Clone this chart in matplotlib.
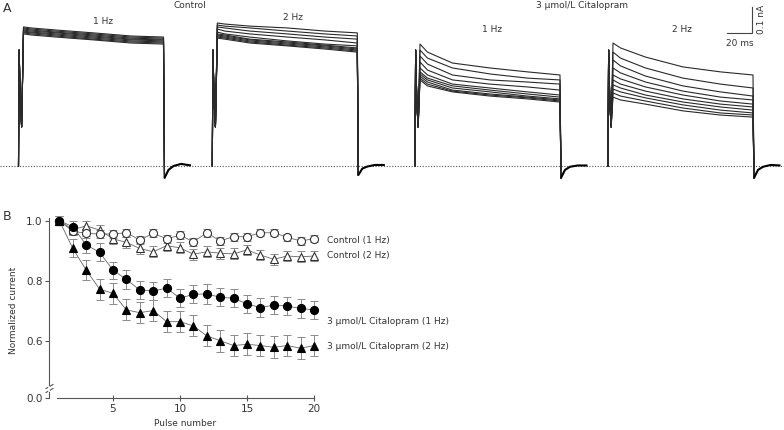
import matplotlib
matplotlib.use("Agg")
import matplotlib.pyplot as plt
from matplotlib.lines import Line2D

W, H = 784, 430

# ---------------- Panel B data (normalized current vs pulse number) ----------------
pulses = list(range(1, 21))
ctrl_1hz = [1.0, 0.965, 0.958, 0.956, 0.956, 0.960, 0.936, 0.958, 0.940, 0.952,
            0.930, 0.960, 0.933, 0.947, 0.947, 0.960, 0.960, 0.945, 0.933, 0.940]
ctrl_1hz_err = [0.015, 0.014, 0.014, 0.014, 0.013, 0.013, 0.013, 0.013, 0.014, 0.013,
                0.013, 0.013, 0.013, 0.013, 0.013, 0.012, 0.012, 0.012, 0.013, 0.012]
ctrl_2hz = [1.0, 0.970, 0.983, 0.969, 0.940, 0.928, 0.908, 0.897, 0.917, 0.910,
            0.889, 0.897, 0.892, 0.890, 0.903, 0.886, 0.872, 0.883, 0.880, 0.883]
ctrl_2hz_err = [0.015, 0.016, 0.016, 0.017, 0.017, 0.017, 0.018, 0.018, 0.018, 0.018,
                0.018, 0.018, 0.018, 0.018, 0.018, 0.018, 0.018, 0.018, 0.018, 0.018]
cit_1hz = [1.0, 0.980, 0.920, 0.895, 0.836, 0.805, 0.770, 0.767, 0.776, 0.743,
           0.756, 0.757, 0.746, 0.743, 0.724, 0.712, 0.720, 0.717, 0.709, 0.704]
cit_1hz_err = [0.015, 0.020, 0.028, 0.030, 0.028, 0.030, 0.030, 0.030, 0.030, 0.030,
               0.030, 0.032, 0.030, 0.030, 0.030, 0.030, 0.030, 0.030, 0.032, 0.031]
cit_2hz = [1.0, 0.908, 0.836, 0.773, 0.759, 0.704, 0.695, 0.702, 0.665, 0.665,
           0.651, 0.618, 0.602, 0.586, 0.590, 0.586, 0.580, 0.586, 0.577, 0.586]
cit_2hz_err = [0.015, 0.030, 0.033, 0.035, 0.035, 0.035, 0.035, 0.035, 0.035, 0.035,
               0.035, 0.035, 0.036, 0.036, 0.036, 0.036, 0.036, 0.036, 0.036, 0.036]
series_labels = ["Control (1 Hz)", "Control (2 Hz)",
                 "3 \u03bcmol/L Citalopram (1 Hz)", "3 \u03bcmol/L Citalopram (2 Hz)"]

# ---------------- Panel A data (current traces, nA vs ms) ----------------
panel_titles = ["1 Hz", "2 Hz", "1 Hz", "2 Hz"]
onset_t = [0.0, 0.5, 1.5, 2.5]            # ms after step onset
onset_amp = [0.0, 0.446, 0.24, 0.15]      # nA (capacitive transient)
trace_t = [4, 10, 30, 60, 90, 116]        # ms
tail_t = [0.8, 4, 8, 14, 22]              # ms after step end
tail_amp = [
    [-0.046, -0.015, 0.000, 0.008, 0.002],
    [-0.035, -0.010, -0.002, 0.004, 0.004],
    [-0.046, -0.015, -0.003, 0.002, 0.002],
    [-0.046, -0.015, -0.003, 0.004, 0.002],
]
ctrl_1hz_traces = [
    [0.535, 0.531, 0.523, 0.512, 0.500, 0.496],
    [0.531, 0.527, 0.519, 0.508, 0.496, 0.492],
    [0.527, 0.523, 0.515, 0.504, 0.492, 0.488],
    [0.523, 0.519, 0.512, 0.500, 0.488, 0.485],
    [0.519, 0.515, 0.508, 0.496, 0.485, 0.481],
    [0.515, 0.512, 0.504, 0.492, 0.481, 0.477],
    [0.512, 0.508, 0.500, 0.488, 0.477, 0.473],
    [0.508, 0.504, 0.496, 0.485, 0.473, 0.469],
]
ctrl_2hz_traces = [
    [0.550, 0.546, 0.538, 0.531, 0.519, 0.512],
    [0.542, 0.538, 0.531, 0.519, 0.508, 0.500],
    [0.535, 0.531, 0.519, 0.508, 0.496, 0.488],
    [0.527, 0.519, 0.508, 0.496, 0.485, 0.473],
    [0.515, 0.508, 0.496, 0.481, 0.469, 0.462],
    [0.508, 0.504, 0.488, 0.477, 0.465, 0.454],
    [0.504, 0.500, 0.485, 0.473, 0.462, 0.450],
    [0.500, 0.496, 0.481, 0.469, 0.458, 0.446],
    [0.496, 0.492, 0.477, 0.465, 0.454, 0.442],
    [0.492, 0.488, 0.473, 0.462, 0.450, 0.438],
]
cit_1hz_traces = [
    [0.469, 0.438, 0.396, 0.377, 0.362, 0.350],
    [0.446, 0.415, 0.377, 0.354, 0.338, 0.331],
    [0.423, 0.392, 0.350, 0.331, 0.323, 0.315],
    [0.400, 0.369, 0.331, 0.315, 0.304, 0.292],
    [0.377, 0.350, 0.315, 0.300, 0.285, 0.273],
    [0.362, 0.338, 0.308, 0.292, 0.277, 0.265],
    [0.354, 0.331, 0.300, 0.285, 0.269, 0.258],
    [0.346, 0.323, 0.292, 0.277, 0.265, 0.254],
    [0.338, 0.315, 0.288, 0.273, 0.262, 0.250],
    [0.331, 0.308, 0.285, 0.269, 0.258, 0.246],
]
cit_2hz_traces = [
    [0.473, 0.454, 0.419, 0.381, 0.362, 0.350],
    [0.438, 0.415, 0.377, 0.338, 0.315, 0.300],
    [0.408, 0.385, 0.346, 0.308, 0.285, 0.269],
    [0.377, 0.358, 0.323, 0.288, 0.265, 0.254],
    [0.350, 0.335, 0.304, 0.273, 0.250, 0.238],
    [0.331, 0.315, 0.288, 0.258, 0.238, 0.227],
    [0.312, 0.300, 0.273, 0.246, 0.227, 0.215],
    [0.296, 0.285, 0.262, 0.235, 0.215, 0.204],
    [0.281, 0.269, 0.250, 0.223, 0.204, 0.196],
    [0.265, 0.254, 0.238, 0.212, 0.196, 0.188],
]
all_traces = [ctrl_1hz_traces, ctrl_2hz_traces, cit_1hz_traces, cit_2hz_traces]
scale_ms = 20
scale_nA = 0.1

# ---------------- layout ----------------
PX_PER_MS = 1.25
PX_PER_NA = 260.0
sweep_onsets_px = [18.5, 212.3, 415.0, 608.0]
baseline_px = 166.0


def fx(px):
    return px / W


def fy(py):
    return 1 - py / H


TEXT = "#333333"
plt.rcParams["font.family"] = ["DejaVu Sans"]

fig = plt.figure(figsize=(W / 100, H / 100), dpi=100)

# ---------------- Panel A ----------------
axA = fig.add_axes([0, fy(180), 1, 180 / H])
axA.set_xlim(0, W / PX_PER_MS)
axA.set_ylim(-(180 - baseline_px) / PX_PER_NA, baseline_px / PX_PER_NA)
axA.axis("off")
axA.axhline(0, color="#555555", lw=0.8, ls=(0, (1, 1.5)), zorder=1)

for p, traces in enumerate(all_traces):
    t0 = sweep_onsets_px[p] / PX_PER_MS
    t_end = trace_t[-1]
    for tr in traces:
        ts = [t0 + t for t in onset_t] + [t0 + t for t in trace_t] + [t0 + t_end + t for t in tail_t[:1]]
        amps = onset_amp + tr + tail_amp[p][:1]
        axA.plot(ts, amps, color="#2a2a2a", lw=0.8, zorder=3)
    tts = [t0 + t_end + t for t in tail_t]
    axA.plot(tts, tail_amp[p], color="black", lw=1.5, zorder=3, solid_capstyle="butt")

# scale bar
sb_x1 = 752 / PX_PER_MS
sb_y0 = (baseline_px - 33) / PX_PER_NA
axA.plot([sb_x1 - scale_ms, sb_x1, sb_x1], [sb_y0, sb_y0, sb_y0 + scale_nA],
         color="#444444", lw=0.8, solid_joinstyle="miter")
fig.text(fx(740), fy(43), "20 ms", ha="center", va="center", fontsize=6.5, color=TEXT)
fig.text(fx(762), fy(19), "0.1 nA", ha="center", va="center", fontsize=6.5,
         color=TEXT, rotation=90)

fig.text(fx(190), fy(6), "Control", ha="center", va="center", fontsize=6.5, color=TEXT)
fig.text(fx(582), fy(6), "3 \u03bcmol/L Citalopram", ha="center", va="center",
         fontsize=6.5, color=TEXT)
title_pos = [(103, 22), (293, 17), (492, 29), (682, 29)]
for (px, py), ttl in zip(title_pos, panel_titles):
    fig.text(fx(px), fy(py), ttl, ha="center", va="center", fontsize=6.5, color=TEXT)

fig.text(fx(7), fy(9), "A", ha="center", va="center", fontsize=9, color=TEXT)
fig.text(fx(7.5), fy(217), "B", ha="center", va="center", fontsize=9, color=TEXT)

# ---------------- Panel B ----------------
left_px, right_px = 49, 314
x_lo = 1 - (59.4 - left_px) / 13.4
axB = fig.add_axes([fx(left_px), fy(385), (right_px - left_px) / W, (385 - 218) / H])
axB.set_xlim(x_lo, 20)
axB.set_ylim(1 - (385 - 220.7) / 301.5, 1 - (218 - 220.7) / 301.5)
for s in ["top", "right", "bottom"]:
    axB.spines[s].set_visible(False)
axB.spines["left"].set_color("#555555")
axB.spines["left"].set_linewidth(0.8)
axB.set_xticks([])
axB.set_yticks([0.6, 0.8, 1.0])
axB.set_yticklabels(["0.6", "0.8", "1.0"])
axB.tick_params(axis="y", direction="out", length=3, width=0.8, color="#555555",
                labelsize=7.5, labelcolor=TEXT, pad=1.5)
axB.patch.set_alpha(0)

axB0 = fig.add_axes([fx(left_px), fy(398), (right_px - left_px) / W, 6 / H])
axB0.set_xlim(x_lo, 20)
axB0.set_ylim(0, 6 / 301.5)
for s in ["top", "right"]:
    axB0.spines[s].set_visible(False)
for s in ["left", "bottom"]:
    axB0.spines[s].set_color("#555555")
    axB0.spines[s].set_linewidth(0.8)
axB0.spines["bottom"].set_bounds(0.82, 20)
axB0.set_yticks([0.0])
axB0.set_yticklabels(["0.0"])
axB0.set_xticks([5, 10, 15, 20])
axB0.tick_params(axis="y", direction="out", length=3, width=0.8, color="#555555",
                 labelsize=7.5, labelcolor=TEXT, pad=1.5)
axB0.tick_params(axis="x", direction="inout", length=4, width=0.8, color="#555555",
                 labelsize=7.5, labelcolor=TEXT, pad=2)
axB0.patch.set_alpha(0)

# axis break marks
for dy in (0, 4):
    fig.add_artist(Line2D([fx(46), fx(53)], [fy(388.5 + dy), fy(384.5 + dy)],
                          color="#555555", lw=0.8))
fig.add_artist(Line2D([fx(49.4), fx(49.4)], [fy(386.5), fy(390.5)], color="white", lw=1.2))

series = [
    (ctrl_2hz, ctrl_2hz_err, "^", "white", 6.2),
    (ctrl_1hz, ctrl_1hz_err, "o", "white", 5.8),
    (cit_1hz, cit_1hz_err, "o", "black", 5.8),
    (cit_2hz, cit_2hz_err, "^", "black", 6.2),
]
for vals, errs, mk, fc, ms in series:
    axB.errorbar(pulses, vals, yerr=errs, fmt="none", ecolor="#8a8a8a", elinewidth=0.7,
                 capsize=2.8, capthick=0.7, clip_on=False, zorder=2)
    axB.plot(pulses, vals, color="#666666", lw=0.6, marker=mk, ms=ms, mfc=fc,
             mec="#333333" if fc == "white" else "black", mew=0.8, clip_on=False, zorder=3)

label_y = [0.933, 0.886, 0.667, 0.584]
for lab, ly in zip(series_labels, label_y):
    axB.text(20.95, ly, lab, ha="left", va="center", fontsize=6.5, color=TEXT, clip_on=False)

fig.text(fx(14), fy(310), "Normalized current", rotation=90, ha="center", va="center",
         fontsize=6.5, color=TEXT)
fig.text(fx(185), fy(424), "Pulse number", ha="center", va="center", fontsize=6.5, color=TEXT)

fig.savefig("out.png", dpi=100)
